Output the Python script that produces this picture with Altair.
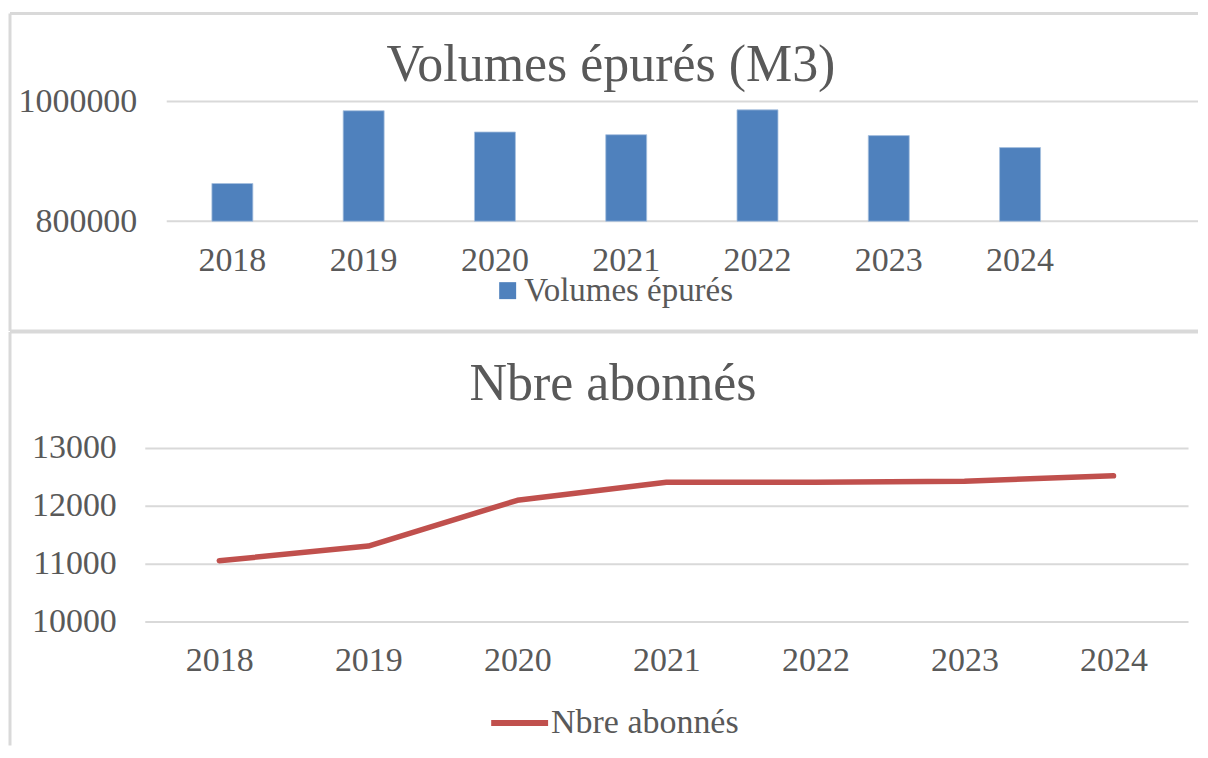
import altair as alt
import pandas as pd

# ---- data ----
years = ["2018", "2019", "2020", "2021", "2022", "2023", "2024"]
volumes = [863000, 984500, 949000, 944500, 986000, 943000, 923000]
abonnes = [11050, 11305, 12095, 12408, 12408, 12425, 12518]
vol_ticks = [800000, 1000000]
ab_ticks = [10000, 11000, 12000, 13000]
title_top = "Volumes épurés (M3)"
title_bottom = "Nbre abonnés"
series_top = "Volumes épurés"
series_bottom = "Nbre abonnés"

FONT = "Liberation Serif"
TXT = "#595959"
GRID = "#d9d9d9"
BAR = "#4f81bd"
LINE = "#c0504d"

W_TOP = 1055
H_TOP = 120
W_BOT = 1045
H_BOT = 174

df_top = pd.DataFrame({"year": years, "value": volumes, "series": series_top})
df_bot = pd.DataFrame({"year": years, "value": abonnes, "series": series_bottom})
df_vt = pd.DataFrame({"v": vol_ticks})

yscale_top = alt.Scale(domain=[vol_ticks[0], vol_ticks[-1]])

# ---------- top panel ----------
grid_top = alt.Chart(df_vt).mark_rule(color=GRID, strokeWidth=2).encode(
    y=alt.Y("v:Q", scale=yscale_top),
    x=alt.value(22),
    x2=alt.value(W_TOP),
)

bars = alt.Chart(df_top).mark_bar(color=BAR, stroke="#a7c0de", strokeWidth=0.8).encode(
    x=alt.X(
        "year:O",
        sort=years,
        scale=alt.Scale(range=[22, 22 + 7 * 131.5], paddingInner=0.688, paddingOuter=0.344),
        axis=alt.Axis(title=None, labelAngle=0, labelFont=FONT, labelFontSize=34,
                      labelColor=TXT, labelPadding=22, ticks=False, domain=False, grid=False),
    ),
    y=alt.Y(
        "value:Q",
        scale=yscale_top,
        axis=alt.Axis(title=None, values=vol_ticks, format="d", labelFont=FONT,
                      labelFontSize=34, labelColor=TXT, labelPadding=8, ticks=False,
                      domain=False, grid=False),
    ),
    y2=alt.datum(vol_ticks[0]),
    color=alt.Color(
        "series:N",
        scale=alt.Scale(domain=[series_top], range=[BAR]),
        legend=alt.Legend(title=None, orient="none", legendX=347, legendY=173,
                          symbolType="square", symbolSize=289, symbolStrokeWidth=0,
                          labelFont=FONT, labelFontSize=33, labelColor=TXT,
                          labelOffset=0, padding=0, labelLimit=500),
    ),
)

ttl_top = alt.Chart(pd.DataFrame({"t": [title_top]})).mark_text(
    font=FONT, fontSize=52, color=TXT, align="center", baseline="alphabetic"
).encode(text="t:N", x=alt.value(467), y=alt.value(-20))

border_top = alt.Chart(pd.DataFrame({"a": [0]})).mark_rule(color=GRID, strokeWidth=3).encode(
    x=alt.value(-135), x2=alt.value(W_TOP), y=alt.value(-88)
)
left_top = alt.Chart(pd.DataFrame({"a": [0]})).mark_rule(color=GRID, strokeWidth=3).encode(
    x=alt.value(-135), y=alt.value(-88), y2=alt.value(230)
)
sep_top = alt.Chart(pd.DataFrame({"a": [0]})).mark_rule(color=GRID, strokeWidth=3).encode(
    x=alt.value(-135), x2=alt.value(W_TOP), y=alt.value(230)
)

top = alt.layer(border_top, left_top, sep_top, grid_top, bars, ttl_top).properties(
    width=W_TOP, height=H_TOP
)

# ---------- bottom panel ----------
line = alt.Chart(df_bot).mark_line(strokeWidth=5.5, strokeCap="round", strokeJoin="round").encode(
    x=alt.X(
        "year:O",
        sort=years,
        scale=alt.Scale(type="point", padding=0.5),
        axis=alt.Axis(title=None, labelAngle=0, labelFont=FONT, labelFontSize=34,
                      labelColor=TXT, labelPadding=22, ticks=False, domain=False, grid=False),
    ),
    y=alt.Y(
        "value:Q",
        scale=alt.Scale(domain=[ab_ticks[0], ab_ticks[-1]]),
        axis=alt.Axis(title=None, values=ab_ticks, format="d", labelFont=FONT,
                      labelFontSize=34, labelColor=TXT, labelPadding=28.5, ticks=False,
                      domain=False, grid=True, gridColor=GRID, gridWidth=2),
    ),
    color=alt.Color(
        "series:N",
        scale=alt.Scale(domain=[series_bottom], range=[LINE]),
        legend=alt.Legend(title=None, orient="none", legendX=344, legendY=244,
                          symbolType="stroke", symbolSize=3249, symbolStrokeWidth=6,
                          labelFont=FONT, labelFontSize=34, labelColor=TXT,
                          labelOffset=0, padding=0, labelLimit=500),
    ),
)

ttl_bot = alt.Chart(pd.DataFrame({"t": [title_bottom]})).mark_text(
    font=FONT, fontSize=52, color=TXT, align="center", baseline="alphabetic"
).encode(text="t:N", x=alt.value(469), y=alt.value(-48))

sep_bot = alt.Chart(pd.DataFrame({"a": [0]})).mark_rule(color=GRID, strokeWidth=3).encode(
    x=alt.value(-135), x2=alt.value(W_TOP), y=alt.value(-116)
)
left_bot = alt.Chart(pd.DataFrame({"a": [0]})).mark_rule(color=GRID, strokeWidth=3).encode(
    x=alt.value(-135), y=alt.value(-116), y2=alt.value(298)
)

bottom = alt.layer(sep_bot, left_bot, line, ttl_bot).properties(width=W_BOT, height=H_BOT)

chart = (
    alt.vconcat(top, bottom, spacing=-3)
    .resolve_scale(x="independent", y="independent", color="independent")
    .resolve_legend(color="independent")
    .properties(padding={"left": 0, "top": 3, "right": 0, "bottom": 0}, background="white")
    .configure_view(stroke=None)
)

chart.save("out.html", embed_options={"renderer": "svg", "actions": False})
